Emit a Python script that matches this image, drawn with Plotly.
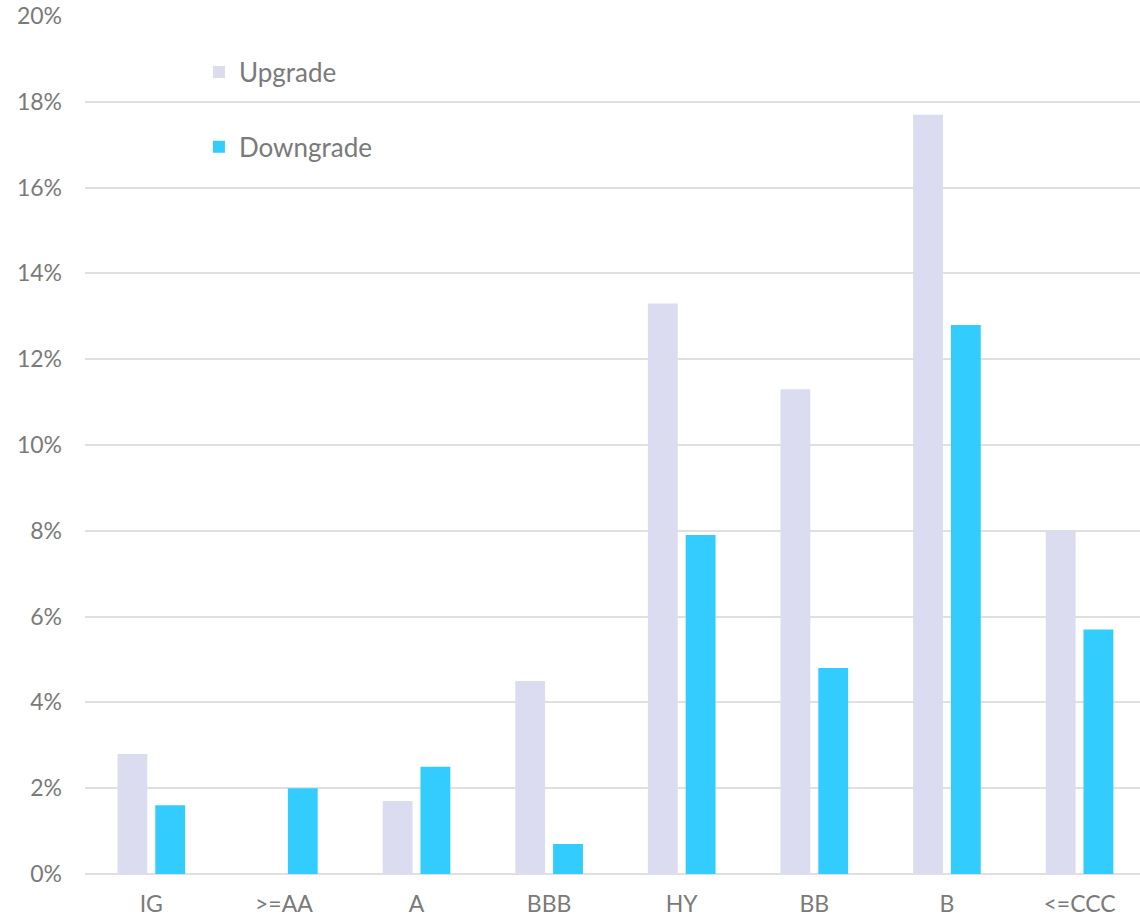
import plotly.graph_objects as go

# Rating buckets and transition rates (%)
categories = ["IG", ">=AA", "A", "BBB", "HY", "BB", "B", "<=CCC"]
upgrade = [2.8, 0.0, 1.7, 4.5, 13.3, 11.3, 17.7, 8.0]
downgrade = [1.6, 2.0, 2.5, 0.7, 7.9, 4.8, 12.8, 5.7]
y_ticks = [0, 2, 4, 6, 8, 10, 12, 14, 16, 18, 20]
y_tick_labels = [f"{v}%" for v in y_ticks]

FONT = "Lato"
TEXT = "#7a7a7a"
GRID = "#e0e0e0"

fig = go.Figure()
fig.add_trace(go.Bar(
    name="Upgrade", x=categories, y=upgrade,
    marker=dict(color="#dcdcf0", line=dict(width=0)),
    legendgroup="up",
))
fig.add_trace(go.Bar(
    name="Downgrade", x=categories, y=downgrade,
    marker=dict(color="#33ccff", line=dict(width=0)),
    legendgroup="down",
))

fig.update_layout(
    width=1140, height=917,
    margin=dict(l=85, r=0, t=16, b=43),
    paper_bgcolor="white", plot_bgcolor="white",
    barmode="group", bargap=0.43, bargroupgap=0.21,
    font=dict(family=FONT, size=23, color=TEXT),
    showlegend=True,
    legend=dict(
        x=0.108, xanchor="left", y=0.962, yanchor="top",
        orientation="v", traceorder="grouped", tracegroupgap=38,
        font=dict(family=FONT, size=26, color=TEXT),
        bgcolor="rgba(0,0,0,0)",
    ),
    xaxis=dict(
        range=[-0.5, 7.456],
        showgrid=False, showline=False, ticks="",
        ticklabelstandoff=14,
        tickfont=dict(family=FONT, size=23, color=TEXT),
    ),
    yaxis=dict(
        range=[0, 20], tickvals=y_ticks, ticktext=y_tick_labels,
        showgrid=True, gridcolor=GRID, gridwidth=2,
        zeroline=True, zerolinecolor=GRID, zerolinewidth=2,
        showline=False, ticks="",
        ticklabelstandoff=22,
        tickfont=dict(family=FONT, size=23, color=TEXT),
    ),
)

fig.write_html("out.html")
